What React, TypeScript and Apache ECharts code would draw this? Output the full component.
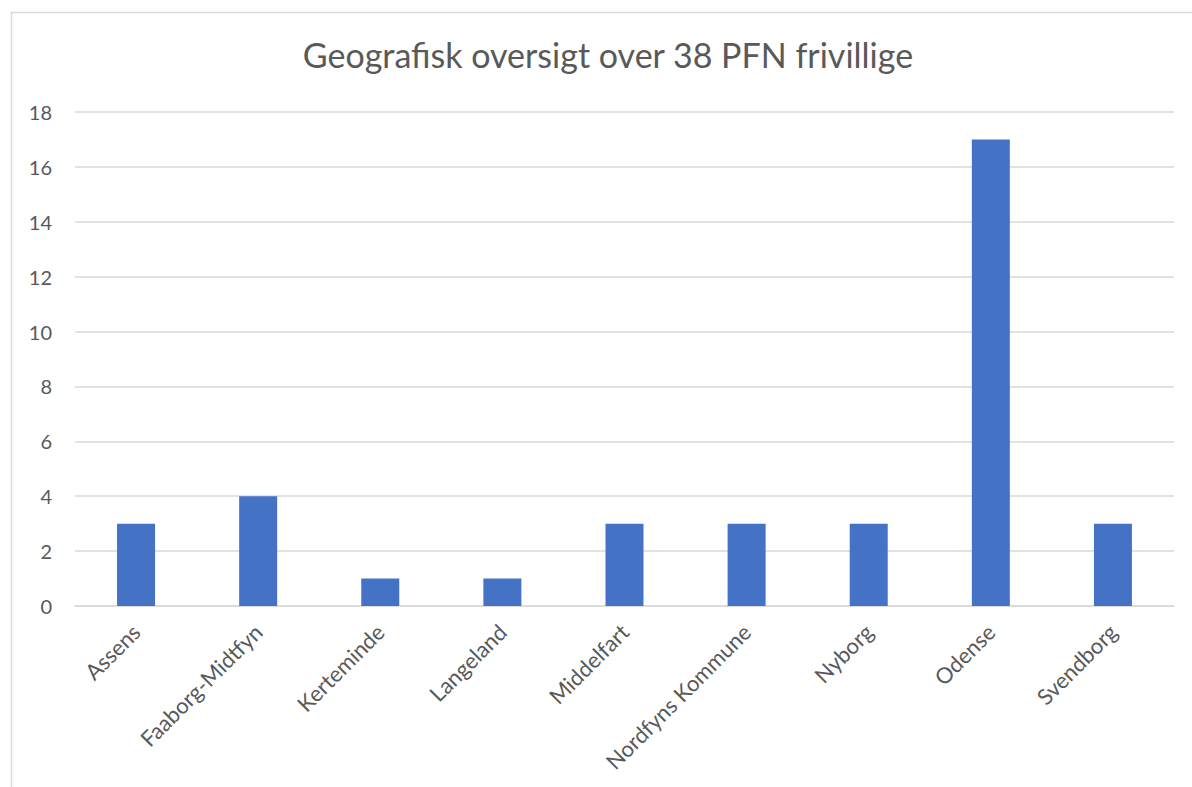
import React, { useEffect, useRef } from "react";
import * as echarts from "echarts";

const categories = [
  "Assens",
  "Faaborg-Midtfyn",
  "Kerteminde",
  "Langeland",
  "Middelfart",
  "Nordfyns Kommune",
  "Nyborg",
  "Odense",
  "Svendborg",
];
const values = [3, 4, 1, 1, 3, 3, 3, 17, 3];
const titleText = "Geografisk oversigt over 38 PFN frivillige";

export default function App() {
  const ref = useRef<HTMLDivElement>(null);
  useEffect(() => {
    document.body.style.margin = "0";
    const chart = echarts.init(ref.current!, null, { renderer: "svg" });
    const font = "Lato, 'Open Sans', sans-serif";
    chart.setOption({
      animation: false,
      backgroundColor: "#ffffff",
      title: {
        text: titleText,
        left: 603,
        textAlign: "center",
        top: 32,
        textStyle: { fontFamily: font, fontSize: 34, fontWeight: "normal", color: "#595959" },
      },
      graphic: [
        {
          type: "rect",
          shape: { x: 11.5, y: 12.5, width: 1300, height: 900 },
          style: { fill: "none", stroke: "#d9d9d9", lineWidth: 1.5 },
          silent: true,
        },
      ],
      grid: { left: 75, right: 18, top: 112, bottom: 181, containLabel: false },
      xAxis: {
        type: "category",
        data: categories,
        axisLine: { show: true, lineStyle: { color: "#d9d9d9", width: 1.5 } },
        axisTick: { show: false },
        axisLabel: {
          rotate: 45,
          interval: 0,
          margin: 22,
          fontFamily: font,
          fontSize: 22,
          color: "#595959",
        },
      },
      yAxis: {
        type: "value",
        min: 0,
        max: 18,
        interval: 2,
        axisLine: { show: false },
        axisTick: { show: false },
        splitLine: { lineStyle: { color: "#d9d9d9", width: 1.5 } },
        axisLabel: { margin: 23, fontFamily: font, fontSize: 20, color: "#595959" },
      },
      series: [
        {
          type: "bar",
          data: values,
          barWidth: 38,
          itemStyle: { color: "#4472c4" },
        },
      ],
    });
    return () => chart.dispose();
  }, []);
  return (
    <div
      ref={ref}
      style={{ position: "absolute", left: 0, top: 0, width: 1192, height: 787 }}
    />
  );
}
